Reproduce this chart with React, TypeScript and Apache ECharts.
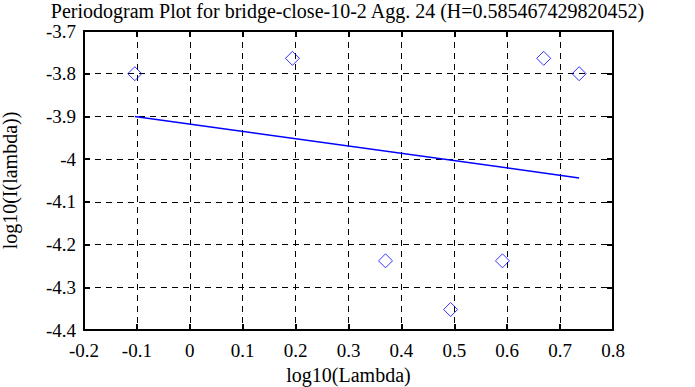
import React, { useEffect, useRef } from "react";
import * as echarts from "echarts";

const titleText = "Periodogram Plot for bridge-close-10-2 Agg. 24 (H=0.585467429820452)";
const xLabel = "log10(Lambda)";
const yLabel = "log10(I(lambda))";
const pointX = [-0.104, 0.194, 0.37, 0.493, 0.591, 0.669, 0.736];
const pointY = [-3.8, -3.764, -4.238, -4.352, -4.238, -3.764, -3.8];
const fitX = [-0.104, 0.736];
const fitY = [-3.9, -4.044];

const FONT = "'Liberation Serif', 'Times New Roman', serif";

export default function App() {
  const ref = useRef<HTMLDivElement>(null);
  useEffect(() => {
    if (!ref.current) return;
    const chart = echarts.init(ref.current, null, { renderer: "svg" });
    const axisLine = { show: true, onZero: false, lineStyle: { color: "#000", width: 2 } };
    const split = { show: true, lineStyle: { color: "#000", type: [6, 5] as any, width: 1 } };
    const tick = { show: true, inside: true, length: 6, lineStyle: { color: "#000", width: 2 } };
    const fmt = (v: number) => String(Math.round(v * 10) / 10);
    chart.setOption({
      animation: false,
      backgroundColor: "#fff",
      title: {
        text: titleText,
        left: "center",
        top: -4,
        textStyle: { fontFamily: FONT, fontWeight: "normal", fontSize: 20, color: "#000" },
      },
      grid: { left: 84, right: 82, top: 31, bottom: 57, containLabel: false, outerBoundsMode: "none" },
      xAxis: [
        {
          type: "value",
          min: -0.2,
          max: 0.8,
          interval: 0.1,
          position: "bottom",
          name: xLabel,
          nameLocation: "middle",
          nameGap: 33,
          nameTextStyle: { fontFamily: FONT, fontSize: 20, color: "#000" },
          axisLine,
          axisTick: tick,
          axisLabel: { fontFamily: FONT, fontSize: 19, color: "#000", margin: 11, formatter: fmt },
          splitLine: split,
        },
        {
          type: "value",
          min: -0.2,
          max: 0.8,
          interval: 0.1,
          position: "top",
          axisLine,
          axisTick: tick,
          axisLabel: { show: false },
          splitLine: { show: false },
        },
      ],
      yAxis: [
        {
          type: "value",
          min: -4.4,
          max: -3.7,
          interval: 0.1,
          position: "left",
          name: yLabel,
          nameLocation: "middle",
          nameGap: 64,
          nameTextStyle: { fontFamily: FONT, fontSize: 20, color: "#000" },
          axisLine,
          axisTick: tick,
          axisLabel: { fontFamily: FONT, fontSize: 19, color: "#000", margin: 8, formatter: fmt },
          splitLine: split,
        },
        {
          type: "value",
          min: -4.4,
          max: -3.7,
          interval: 0.1,
          position: "right",
          axisLine,
          axisTick: tick,
          axisLabel: { show: false },
          splitLine: { show: false },
        },
      ],
      series: [
        {
          type: "scatter",
          data: pointX.map((x, i) => [x, pointY[i]]),
          symbol: "diamond",
          symbolSize: [14, 14],
          itemStyle: { color: "rgba(0,0,0,0)", borderColor: "#0000ff", borderWidth: 1 },
        },
        {
          type: "line",
          data: fitX.map((x, i) => [x, fitY[i]]),
          showSymbol: false,
          symbol: "none",
          lineStyle: { color: "#0000ff", width: 1.5 },
        },
      ],
    });
    return () => chart.dispose();
  }, []);
  return <div ref={ref} style={{ width: 695, height: 387, position: "absolute", left: 0, top: 0 }} />;
}
